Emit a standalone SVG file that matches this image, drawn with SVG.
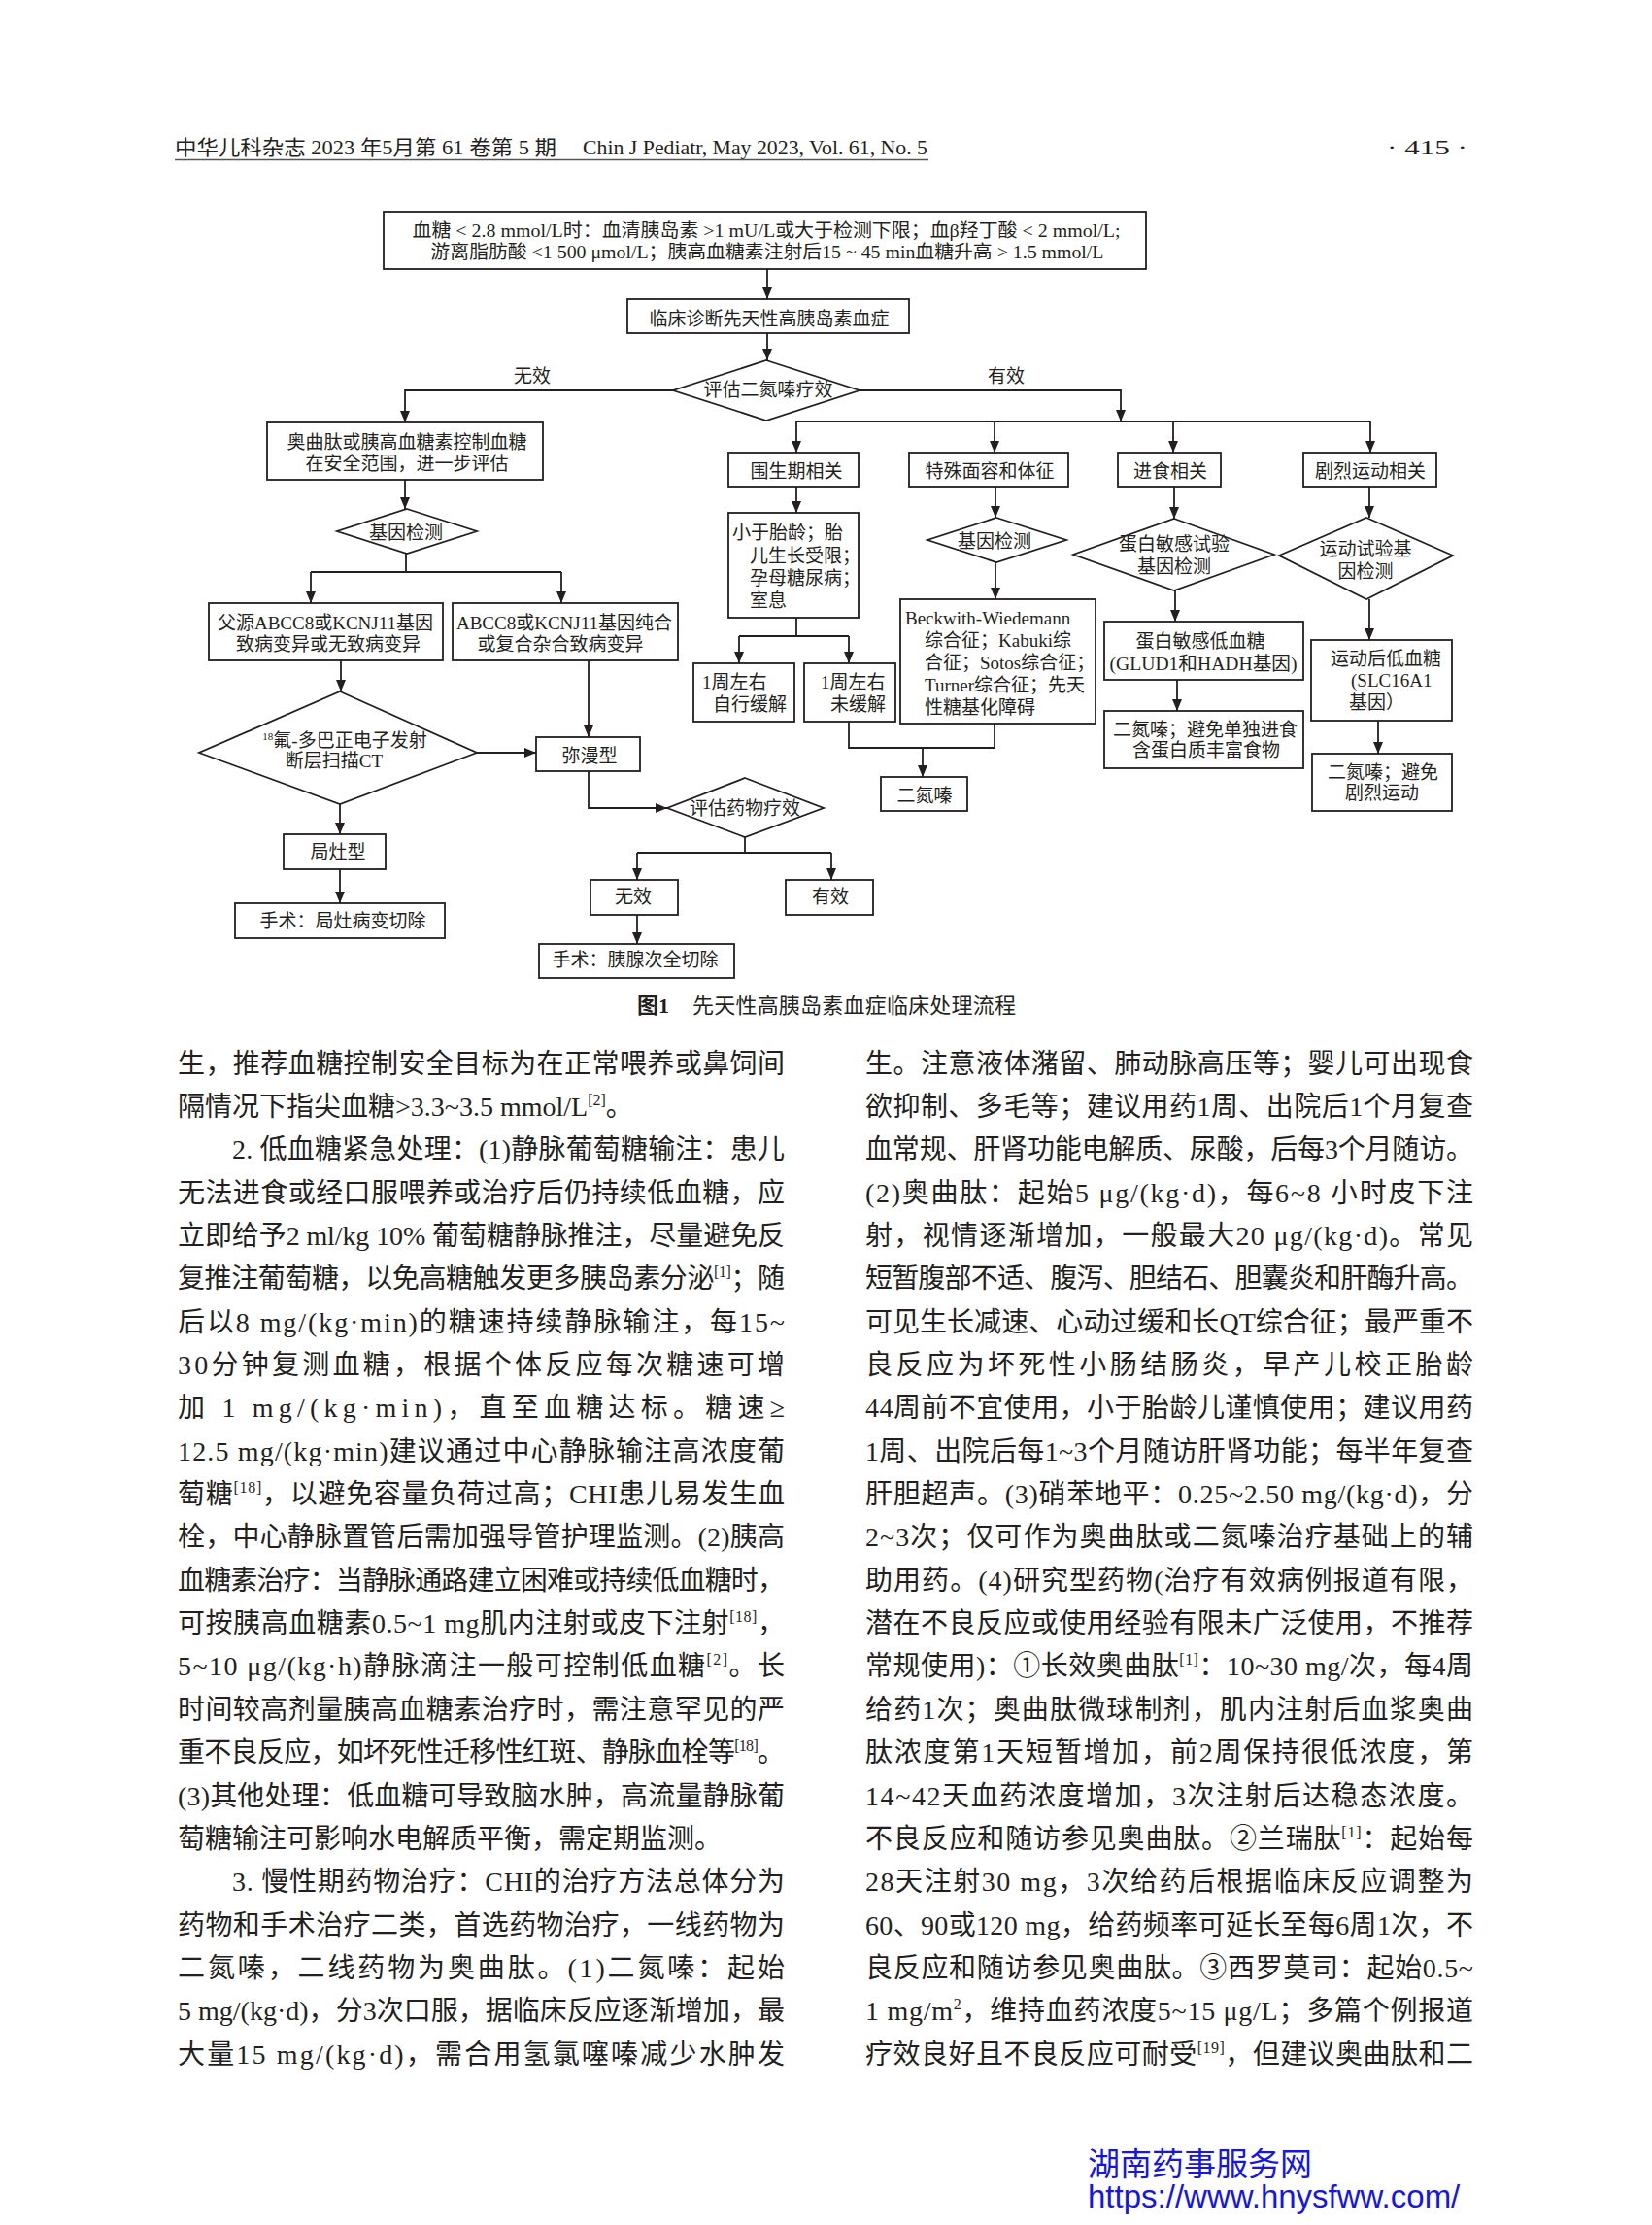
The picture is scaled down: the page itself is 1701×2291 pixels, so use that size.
<svg xmlns="http://www.w3.org/2000/svg" width="1701" height="2291" viewBox="0 0 1701 2291">
<style>
.b{fill:#fff;stroke:#231f20;stroke-width:1.8}
.c{fill:none;stroke:#231f20;stroke-width:1.8}
.a{marker-end:url(#ah)}
.t{font-family:"Liberation Serif","Noto Sans CJK SC",serif;font-size:19px;fill:#231f20}
.m{text-anchor:middle}
.hd{font-family:"Liberation Serif","Noto Sans CJK SC",serif;font-size:21px;fill:#231f20}
.bt{font-family:"Liberation Serif","Noto Sans CJK SC",serif;font-size:28px;fill:#231f20}
.sup{font-size:16px}
.cap{font-family:"Liberation Serif","Noto Sans CJK SC",serif;font-size:22px;fill:#231f20}
.wm{font-family:"Liberation Sans","Noto Sans CJK SC",sans-serif;font-size:33px;fill:#1515e8}
</style>
<defs>
<marker id="ah" markerWidth="12" markerHeight="10" refX="12" refY="5" orient="auto" markerUnits="userSpaceOnUse" viewBox="0 0 12 10"><path d="M0,0 L12,5 L0,10 z" fill="#231f20"/></marker>
</defs>
<rect width="1701" height="2291" fill="#fff"/>

<g id="header">
<text class="hd" x="180" y="159" textLength="393" lengthAdjust="spacingAndGlyphs">中华儿科杂志 2023 年5月第 61 卷第 5 期</text>
<text class="hd" x="600" y="159" textLength="355" lengthAdjust="spacingAndGlyphs">Chin J Pediatr, May 2023, Vol. 61, No. 5</text>
<text class="hd" x="1428" y="159" textLength="83" lengthAdjust="spacingAndGlyphs">· 415 ·</text>
<line x1="180" y1="164.5" x2="956" y2="164.5" stroke="#555" stroke-width="1.5"/>
</g>

<g id="connectors">
<path class="c a" d="M790,277 V308"/>
<path class="c a" d="M790,343 V371"/>
<path class="c a" d="M693,402 H417 V435"/>
<path class="c a" d="M885,402 H1154 V434"/>
<path class="c" d="M820,434 H1411"/>
<path class="c a" d="M820,434 V466"/>
<path class="c a" d="M1024,434 V466"/>
<path class="c a" d="M1208,434 V466"/>
<path class="c a" d="M1411,434 V466"/>
<path class="c a" d="M820,501 V528"/>
<path class="c" d="M820,636 V655 M761,655 H874"/>
<path class="c a" d="M761,655 V683"/>
<path class="c a" d="M874,655 V683"/>
<path class="c a" d="M1025,501 V533"/>
<path class="c a" d="M1025,579 V617"/>
<path class="c" d="M874,743 V770 H1024 V745"/>
<path class="c a" d="M950,770 V800"/>
<path class="c a" d="M1209,501 V534"/>
<path class="c a" d="M1210,608 V640"/>
<path class="c a" d="M1212,700 V732"/>
<path class="c a" d="M1410,501 V533"/>
<path class="c a" d="M1410,617 V659"/>
<path class="c a" d="M1419,742 V776"/>
<path class="c a" d="M417,494 V524"/>
<path class="c" d="M418,570 V589 M320,589 H578"/>
<path class="c a" d="M320,589 V621"/>
<path class="c a" d="M578,589 V621"/>
<path class="c a" d="M351,680 V712"/>
<path class="c a" d="M606,680 V759"/>
<path class="c a" d="M491,775 H552"/>
<path class="c a" d="M606,794 V832 H687"/>
<path class="c" d="M767,862 V878 M656,878 H856"/>
<path class="c a" d="M656,878 V906"/>
<path class="c a" d="M856,878 V906"/>
<path class="c a" d="M656,942 V972"/>
<path class="c a" d="M350,828 V859"/>
<path class="c a" d="M350,895 V930"/>
<text class="t m" x="548" y="394">无效</text>
<text class="t m" x="1036" y="394">有效</text>
</g>

<g id="n-criteria">
<rect class="b" x="395" y="218" width="785" height="59"/>
<text class="t m" x="789" y="244" textLength="729" lengthAdjust="spacingAndGlyphs">血糖 &lt; 2.8 mmol/L时：血清胰岛素 &gt;1 mU/L或大于检测下限；血β羟丁酸 &lt; 2 mmol/L;</text>
<text class="t m" x="790" y="266" textLength="693" lengthAdjust="spacingAndGlyphs">游离脂肪酸 &lt;1 500 μmol/L；胰高血糖素注射后15 ~ 45 min血糖升高  &gt; 1.5 mmol/L</text>
</g>
<g id="n-diagnosis">
<rect class="b" x="646" y="308" width="290" height="35"/>
<text class="t m" x="792" y="335">临床诊断先天性高胰岛素血症</text>
</g>
<g id="n-eval-diazoxide">
<polygon class="b" points="789,371 885,402 789,433 693,402"/>
<text class="t m" x="791" y="408">评估二氮嗪疗效</text>
</g>
<g id="n-octreotide">
<rect class="b" x="275" y="435" width="284" height="59"/>
<text class="t m" x="419" y="462">奥曲肽或胰高血糖素控制血糖</text>
<text class="t m" x="419" y="484">在安全范围，进一步评估</text>
</g>
<g id="n-gene-left">
<polygon class="b" points="419,524 491,547 419,570 347,547"/>
<text class="t m" x="418" y="555">基因检测</text>
</g>
<g id="n-paternal">
<rect class="b" x="215" y="621" width="241" height="59"/>
<text class="t m" x="335" y="648">父源ABCC8或KCNJ11基因</text>
<text class="t m" x="338" y="670">致病变异或无致病变异</text>
</g>
<g id="n-homozygous">
<rect class="b" x="466" y="621" width="232" height="59"/>
<text class="t m" x="581" y="648">ABCC8或KCNJ11基因纯合</text>
<text class="t m" x="577" y="670">或复合杂合致病变异</text>
</g>
<g id="n-pet">
<polygon class="b" points="350,712 491,775 350,828 205,775"/>
<text class="t m" x="355" y="769"><tspan font-size="11" dy="-7">18</tspan><tspan dy="7">氟-多巴正电子发射</tspan></text>
<text class="t m" x="344" y="790">断层扫描CT</text>
</g>
<g id="n-focal">
<rect class="b" x="292" y="859" width="105" height="36"/>
<text class="t m" x="348" y="884">局灶型</text>
</g>
<g id="n-surg-focal">
<rect class="b" x="242" y="930" width="216" height="36"/>
<text class="t m" x="353" y="955">手术：局灶病变切除</text>
</g>
<g id="n-diffuse">
<rect class="b" x="552" y="759" width="107" height="35"/>
<text class="t m" x="607" y="785">弥漫型</text>
</g>
<g id="n-eval-drug">
<polygon class="b" points="767,801 848,832 767,862 687,832"/>
<text class="t m" x="767" y="839">评估药物疗效</text>
</g>
<g id="n-ineffective">
<rect class="b" x="608" y="906" width="90" height="36"/>
<text class="t m" x="652" y="930">无效</text>
</g>
<g id="n-effective">
<rect class="b" x="809" y="906" width="90" height="36"/>
<text class="t m" x="855" y="930">有效</text>
</g>
<g id="n-surg-subtotal">
<rect class="b" x="555" y="972" width="201" height="35"/>
<text class="t m" x="654" y="995">手术：胰腺次全切除</text>
</g>

<g id="n-perinatal">
<rect class="b" x="750" y="466" width="134" height="35"/>
<text class="t m" x="820" y="492">围生期相关</text>
</g>
<g id="n-syndromic">
<rect class="b" x="936" y="466" width="164" height="35"/>
<text class="t m" x="1019" y="492">特殊面容和体征</text>
</g>
<g id="n-feeding">
<rect class="b" x="1151" y="466" width="106" height="35"/>
<text class="t m" x="1205" y="492">进食相关</text>
</g>
<g id="n-exercise">
<rect class="b" x="1342" y="466" width="137" height="35"/>
<text class="t m" x="1411" y="492">剧烈运动相关</text>
</g>
<g id="n-perinatal-causes">
<rect class="b" x="750" y="528" width="134" height="108"/>
<text class="t" x="754" y="555">小于胎龄；胎</text>
<text class="t" x="772" y="579">儿生长受限；</text>
<text class="t" x="772" y="602">孕母糖尿病；</text>
<text class="t" x="772" y="625">室息</text>
</g>
<g id="n-resolved">
<rect class="b" x="714" y="683" width="104" height="60"/>
<text class="t" x="723" y="709">1周左右</text>
<text class="t" x="734" y="732">自行缓解</text>
</g>
<g id="n-unresolved">
<rect class="b" x="828" y="683" width="94" height="60"/>
<text class="t" x="845" y="709">1周左右</text>
<text class="t" x="855" y="732">未缓解</text>
</g>
<g id="n-gene-mid">
<polygon class="b" points="1026,533 1098,556 1026,579 955,556"/>
<text class="t m" x="1024" y="564">基因检测</text>
</g>
<g id="n-syndromes">
<rect class="b" x="927" y="617" width="201" height="128"/>
<text class="t" x="932" y="643">Beckwith-Wiedemann</text>
<text class="t" x="952" y="666">综合征；Kabuki综</text>
<text class="t" x="952" y="689">合征；Sotos综合征；</text>
<text class="t" x="952" y="712">Turner综合征；先天</text>
<text class="t" x="952" y="735">性糖基化障碍</text>
</g>
<g id="n-diazoxide">
<rect class="b" x="907" y="800" width="89" height="35"/>
<text class="t m" x="952" y="826">二氮嗪</text>
</g>
<g id="n-protein-test">
<polygon class="b" points="1209,534 1312,571 1209,608 1105,571"/>
<text class="t m" x="1209" y="567">蛋白敏感试验</text>
<text class="t m" x="1209" y="590">基因检测</text>
</g>
<g id="n-protein-hypo">
<rect class="b" x="1137" y="640" width="205" height="60"/>
<text class="t m" x="1236" y="667">蛋白敏感低血糖</text>
<text class="t m" x="1239" y="690" textLength="193" lengthAdjust="spacingAndGlyphs">(GLUD1和HADH基因)</text>
</g>
<g id="n-protein-treat">
<rect class="b" x="1137" y="732" width="205" height="59"/>
<text class="t m" x="1241" y="758">二氮嗪；避免单独进食</text>
<text class="t m" x="1242" y="779">含蛋白质丰富食物</text>
</g>
<g id="n-exercise-test">
<polygon class="b" points="1407,533 1496,572 1407,617 1317,572"/>
<text class="t m" x="1406" y="572">运动试验基</text>
<text class="t m" x="1406" y="595">因检测</text>
</g>
<g id="n-exercise-hypo">
<rect class="b" x="1350" y="659" width="145" height="83"/>
<text class="t m" x="1427" y="685">运动后低血糖</text>
<text class="t" x="1391" y="707">(SLC16A1</text>
<text class="t" x="1389" y="730">基因）</text>
</g>
<g id="n-exercise-treat">
<rect class="b" x="1351" y="776" width="144" height="59"/>
<text class="t m" x="1424" y="802">二氮嗪；避免</text>
<text class="t m" x="1423" y="823">剧烈运动</text>
</g>

<g id="caption">
<text class="cap" x="656" y="1043" font-weight="bold">图1</text>
<text class="cap" x="713" y="1043" textLength="333" lengthAdjust="spacing">先天性高胰岛素血症临床处理流程</text>
</g>

<g id="body-left">
<text class="bt" x="183" y="1104.5" textLength="625" lengthAdjust="spacing">生，推荐血糖控制安全目标为在正常喂养或鼻饲间</text>
<text class="bt" x="183" y="1148.9">隔情况下指尖血糖&gt;3.3~3.5 mmol/L<tspan class="sup" dy="-11">[2]</tspan><tspan dy="11">。</tspan></text>
<text class="bt" x="239" y="1193.2" textLength="569" lengthAdjust="spacing">2. 低血糖紧急处理：(1)静脉葡萄糖输注：患儿</text>
<text class="bt" x="183" y="1237.6" textLength="625" lengthAdjust="spacing">无法进食或经口服喂养或治疗后仍持续低血糖，应</text>
<text class="bt" x="183" y="1281.9" textLength="625" lengthAdjust="spacing">立即给予2 ml/kg 10% 葡萄糖静脉推注，尽量避免反</text>
<text class="bt" x="183" y="1326.3" textLength="625" lengthAdjust="spacing">复推注葡萄糖，以免高糖触发更多胰岛素分泌<tspan class="sup" dy="-11">[1]</tspan><tspan dy="11">；随</tspan></text>
<text class="bt" x="183" y="1370.6" textLength="625" lengthAdjust="spacing">后以8 mg/(kg·min)的糖速持续静脉输注，每15~</text>
<text class="bt" x="183" y="1415.0" textLength="625" lengthAdjust="spacing">30分钟复测血糖，根据个体反应每次糖速可增</text>
<text class="bt" x="183" y="1459.3" textLength="625" lengthAdjust="spacing">加 1 mg/(kg·min)，直至血糖达标。糖速≥</text>
<text class="bt" x="183" y="1503.7" textLength="625" lengthAdjust="spacing">12.5 mg/(kg·min)建议通过中心静脉输注高浓度葡</text>
<text class="bt" x="183" y="1548.0" textLength="625" lengthAdjust="spacing">萄糖<tspan class="sup" dy="-11">[18]</tspan><tspan dy="11">，以避免容量负荷过高；CHI患儿易发生血</tspan></text>
<text class="bt" x="183" y="1592.4" textLength="625" lengthAdjust="spacing">栓，中心静脉置管后需加强导管护理监测。(2)胰高</text>
<text class="bt" x="183" y="1636.7" textLength="625" lengthAdjust="spacing">血糖素治疗：当静脉通路建立困难或持续低血糖时，</text>
<text class="bt" x="183" y="1681.1" textLength="625" lengthAdjust="spacing">可按胰高血糖素0.5~1 mg肌内注射或皮下注射<tspan class="sup" dy="-11">[18]</tspan><tspan dy="11">，</tspan></text>
<text class="bt" x="183" y="1725.4" textLength="625" lengthAdjust="spacing">5~10 μg/(kg·h)静脉滴注一般可控制低血糖<tspan class="sup" dy="-11">[2]</tspan><tspan dy="11">。长</tspan></text>
<text class="bt" x="183" y="1769.8" textLength="625" lengthAdjust="spacing">时间较高剂量胰高血糖素治疗时，需注意罕见的严</text>
<text class="bt" x="183" y="1814.1" textLength="625" lengthAdjust="spacing">重不良反应，如坏死性迁移性红斑、静脉血栓等<tspan class="sup" dy="-11">[18]</tspan><tspan dy="11">。</tspan></text>
<text class="bt" x="183" y="1858.5" textLength="625" lengthAdjust="spacing">(3)其他处理：低血糖可导致脑水肿，高流量静脉葡</text>
<text class="bt" x="183" y="1902.8">萄糖输注可影响水电解质平衡，需定期监测。</text>
<text class="bt" x="239" y="1947.2" textLength="569" lengthAdjust="spacing">3. 慢性期药物治疗：CHI的治疗方法总体分为</text>
<text class="bt" x="183" y="1991.5" textLength="625" lengthAdjust="spacing">药物和手术治疗二类，首选药物治疗，一线药物为</text>
<text class="bt" x="183" y="2035.9" textLength="625" lengthAdjust="spacing">二氮嗪，二线药物为奥曲肽。(1)二氮嗪：起始</text>
<text class="bt" x="183" y="2080.2" textLength="625" lengthAdjust="spacing">5 mg/(kg·d)，分3次口服，据临床反应逐渐增加，最</text>
<text class="bt" x="183" y="2124.6" textLength="625" lengthAdjust="spacing">大量15 mg/(kg·d)，需合用氢氯噻嗪减少水肿发</text>
</g>

<g id="body-right">
<text class="bt" x="891" y="1104.5" textLength="626" lengthAdjust="spacing">生。注意液体潴留、肺动脉高压等；婴儿可出现食</text>
<text class="bt" x="891" y="1148.9" textLength="626" lengthAdjust="spacing">欲抑制、多毛等；建议用药1周、出院后1个月复查</text>
<text class="bt" x="891" y="1193.2" textLength="626" lengthAdjust="spacing">血常规、肝肾功能电解质、尿酸，后每3个月随访。</text>
<text class="bt" x="891" y="1237.6" textLength="626" lengthAdjust="spacing">(2)奥曲肽：起始5 μg/(kg·d)，每6~8 小时皮下注</text>
<text class="bt" x="891" y="1281.9" textLength="626" lengthAdjust="spacing">射，视情逐渐增加，一般最大20 μg/(kg·d)。常见</text>
<text class="bt" x="891" y="1326.3" textLength="626" lengthAdjust="spacing">短暂腹部不适、腹泻、胆结石、胆囊炎和肝酶升高。</text>
<text class="bt" x="891" y="1370.6" textLength="626" lengthAdjust="spacing">可见生长减速、心动过缓和长QT综合征；最严重不</text>
<text class="bt" x="891" y="1415.0" textLength="626" lengthAdjust="spacing">良反应为坏死性小肠结肠炎，早产儿校正胎龄</text>
<text class="bt" x="891" y="1459.3" textLength="626" lengthAdjust="spacing">44周前不宜使用，小于胎龄儿谨慎使用；建议用药</text>
<text class="bt" x="891" y="1503.7" textLength="626" lengthAdjust="spacing">1周、出院后每1~3个月随访肝肾功能；每半年复查</text>
<text class="bt" x="891" y="1548.0" textLength="626" lengthAdjust="spacing">肝胆超声。(3)硝苯地平：0.25~2.50 mg/(kg·d)，分</text>
<text class="bt" x="891" y="1592.4" textLength="626" lengthAdjust="spacing">2~3次；仅可作为奥曲肽或二氮嗪治疗基础上的辅</text>
<text class="bt" x="891" y="1636.7" textLength="626" lengthAdjust="spacing">助用药。(4)研究型药物(治疗有效病例报道有限，</text>
<text class="bt" x="891" y="1681.1" textLength="626" lengthAdjust="spacing">潜在不良反应或使用经验有限未广泛使用，不推荐</text>
<text class="bt" x="891" y="1725.4" textLength="626" lengthAdjust="spacing">常规使用)：①长效奥曲肽<tspan class="sup" dy="-11">[1]</tspan><tspan dy="11">：10~30 mg/次，每4周</tspan></text>
<text class="bt" x="891" y="1769.8" textLength="626" lengthAdjust="spacing">给药1次；奥曲肽微球制剂，肌内注射后血浆奥曲</text>
<text class="bt" x="891" y="1814.1" textLength="626" lengthAdjust="spacing">肽浓度第1天短暂增加，前2周保持很低浓度，第</text>
<text class="bt" x="891" y="1858.5" textLength="626" lengthAdjust="spacing">14~42天血药浓度增加，3次注射后达稳态浓度。</text>
<text class="bt" x="891" y="1902.8" textLength="626" lengthAdjust="spacing">不良反应和随访参见奥曲肽。②兰瑞肽<tspan class="sup" dy="-11">[1]</tspan><tspan dy="11">：起始每</tspan></text>
<text class="bt" x="891" y="1947.2" textLength="626" lengthAdjust="spacing">28天注射30 mg，3次给药后根据临床反应调整为</text>
<text class="bt" x="891" y="1991.5" textLength="626" lengthAdjust="spacing">60、90或120 mg，给药频率可延长至每6周1次，不</text>
<text class="bt" x="891" y="2035.9" textLength="626" lengthAdjust="spacing">良反应和随访参见奥曲肽。③西罗莫司：起始0.5~</text>
<text class="bt" x="891" y="2080.2" textLength="626" lengthAdjust="spacing">1 mg/m<tspan class="sup" dy="-11">2</tspan><tspan dy="11">，维持血药浓度5~15 μg/L；多篇个例报道</tspan></text>
<text class="bt" x="891" y="2124.6" textLength="626" lengthAdjust="spacing">疗效良好且不良反应可耐受<tspan class="sup" dy="-11">[19]</tspan><tspan dy="11">，但建议奥曲肽和二</tspan></text>
</g>

<g id="watermark">
<text class="wm" x="1120" y="2240">湖南药事服务网</text>
<text class="wm" x="1120" y="2273">https://www.hnysfww.com/</text>
</g>
</svg>
